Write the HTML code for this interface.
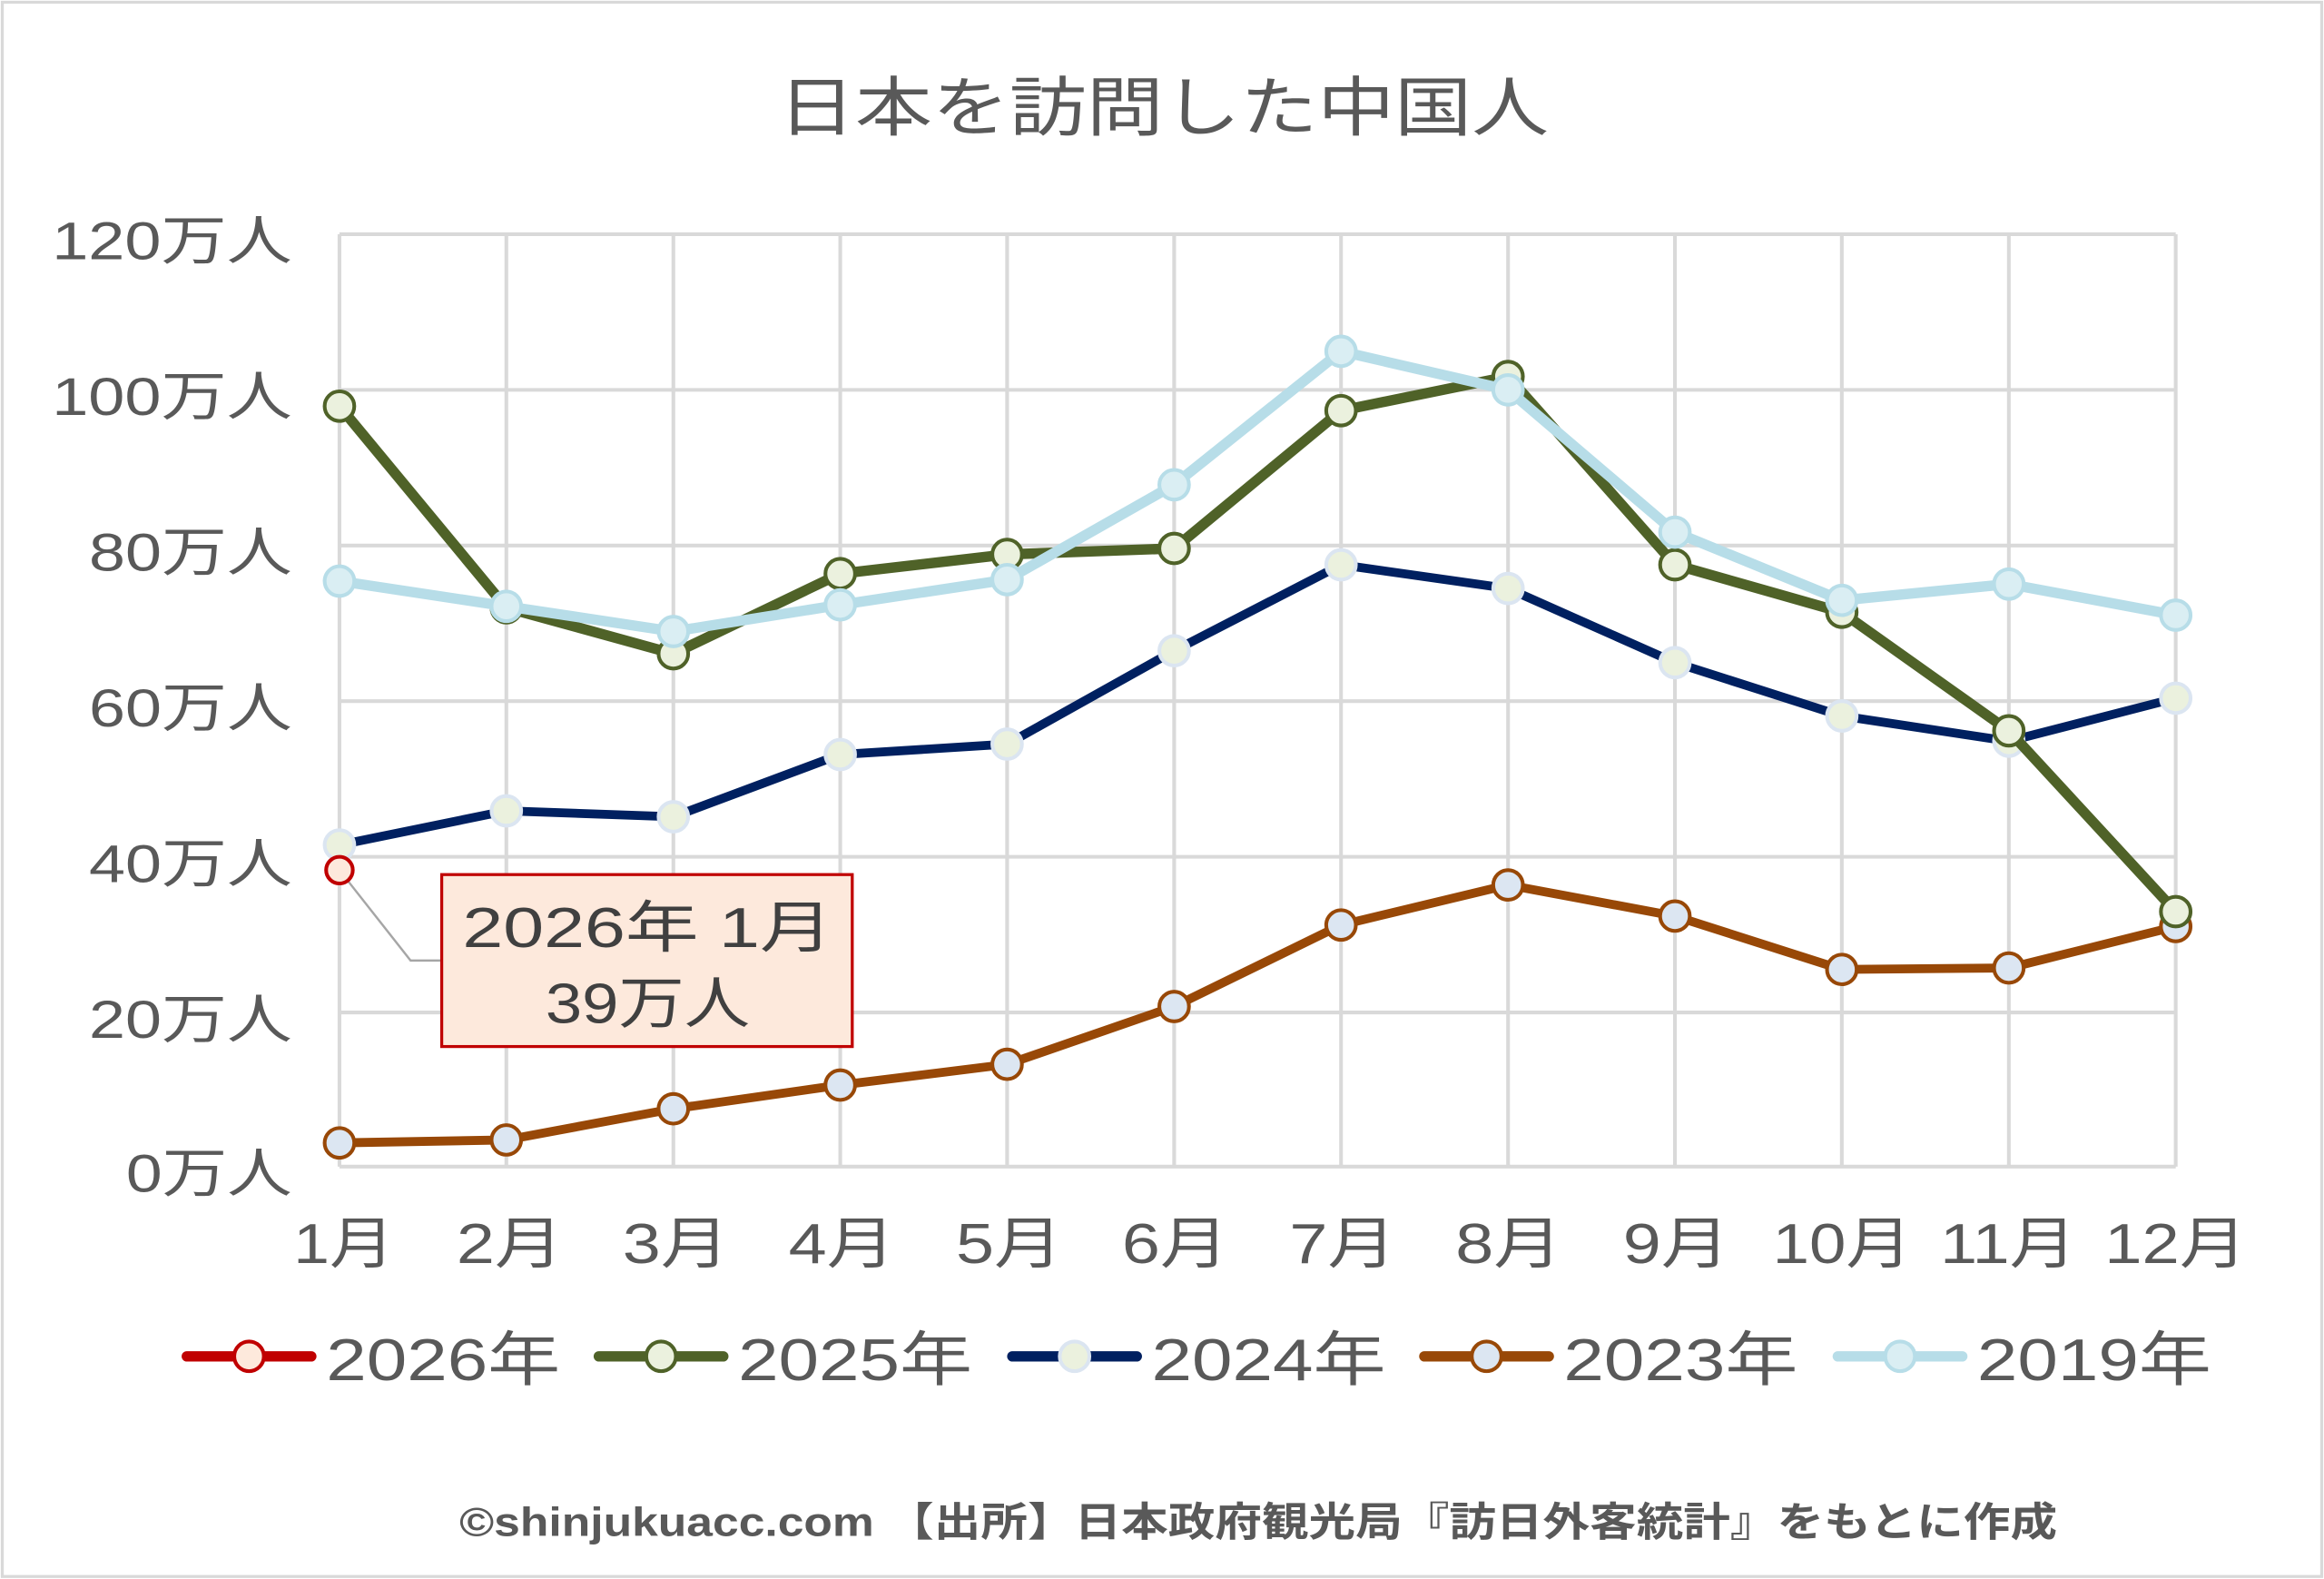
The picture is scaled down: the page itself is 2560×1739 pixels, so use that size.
<!DOCTYPE html>
<html><head><meta charset="utf-8"><style>
html,body{margin:0;padding:0;background:#fff;}
svg{display:block;}
text{font-family:"Liberation Sans","Noto Sans CJK JP",sans-serif;fill:#595959;}
</style></head><body>
<svg width="2560" height="1739" viewBox="0 0 1568 1065.2" xmlns="http://www.w3.org/2000/svg">
<rect x="1.5" y="1.5" width="1565" height="1062" fill="#fff" stroke="#d9d9d9" stroke-width="2"/>
<text x="785" y="88" font-size="44" text-anchor="middle" textLength="520" lengthAdjust="spacingAndGlyphs">日本を訪問した中国人</text>
<g stroke="#d9d9d9" stroke-width="2.5" fill="none">
<path d="M229 158H1468M229 263H1468M229 368H1468M229 473H1468M229 578H1468M229 683H1468M229 787H1468"/>
<path d="M229 158V787M341.6 158V787M454.3 158V787M566.9 158V787M679.5 158V787M792.2 158V787M904.8 158V787M1017.5 158V787M1130.1 158V787M1242.7 158V787M1355.4 158V787M1468 158V787"/>
</g>
<g font-size="36" text-anchor="end">
<text x="197" y="175" textLength="162" lengthAdjust="spacingAndGlyphs">120万人</text>
<text x="197" y="280" textLength="162" lengthAdjust="spacingAndGlyphs">100万人</text>
<text x="197" y="385" textLength="137" lengthAdjust="spacingAndGlyphs">80万人</text>
<text x="197" y="490" textLength="137" lengthAdjust="spacingAndGlyphs">60万人</text>
<text x="197" y="595" textLength="137" lengthAdjust="spacingAndGlyphs">40万人</text>
<text x="197" y="700" textLength="137" lengthAdjust="spacingAndGlyphs">20万人</text>
<text x="197" y="804" textLength="112" lengthAdjust="spacingAndGlyphs">0万人</text>
</g>
<g font-size="38" text-anchor="middle">
<text x="232" y="852" textLength="68" lengthAdjust="spacingAndGlyphs">1月</text>
<text x="344" y="852" textLength="72" lengthAdjust="spacingAndGlyphs">2月</text>
<text x="456" y="852" textLength="72" lengthAdjust="spacingAndGlyphs">3月</text>
<text x="568" y="852" textLength="72" lengthAdjust="spacingAndGlyphs">4月</text>
<text x="681" y="852" textLength="72" lengthAdjust="spacingAndGlyphs">5月</text>
<text x="793" y="852" textLength="72" lengthAdjust="spacingAndGlyphs">6月</text>
<text x="906" y="852" textLength="72" lengthAdjust="spacingAndGlyphs">7月</text>
<text x="1018" y="852" textLength="72" lengthAdjust="spacingAndGlyphs">8月</text>
<text x="1131" y="852" textLength="72" lengthAdjust="spacingAndGlyphs">9月</text>
<text x="1243" y="852" textLength="94" lengthAdjust="spacingAndGlyphs">10月</text>
<text x="1355" y="852" textLength="92" lengthAdjust="spacingAndGlyphs">11月</text>
<text x="1468" y="852" textLength="96" lengthAdjust="spacingAndGlyphs">12月</text>
</g>
<!-- 2023 -->
<polyline fill="none" stroke="#984807" stroke-width="6" stroke-linejoin="round" points="229,771 341.6,769 454.3,748 566.9,732 679.5,718 792.2,679 904.8,624 1017.5,597 1130.1,618 1242.7,654 1355.4,653 1468,625"/>
<g fill="#dce6f2" stroke="#984807" stroke-width="2.5">
<circle cx="229" cy="771" r="10"/><circle cx="341.6" cy="769" r="10"/><circle cx="454.3" cy="748" r="10"/><circle cx="566.9" cy="732" r="10"/><circle cx="679.5" cy="718" r="10"/><circle cx="792.2" cy="679" r="10"/><circle cx="904.8" cy="624" r="10"/><circle cx="1017.5" cy="597" r="10"/><circle cx="1130.1" cy="618" r="10"/><circle cx="1242.7" cy="654" r="10"/><circle cx="1355.4" cy="653" r="10"/><circle cx="1468" cy="625" r="10"/>
</g>
<!-- 2024 -->
<polyline fill="none" stroke="#002060" stroke-width="6" stroke-linejoin="round" points="229,570 341.6,547 454.3,551 566.9,509 679.5,502 792.2,439 904.8,381 1017.5,397 1130.1,447 1242.7,483 1355.4,500 1468,471"/>
<g fill="#ebf1de" stroke="#dbe5f1" stroke-width="2.5">
<circle cx="229" cy="570" r="10"/><circle cx="341.6" cy="547" r="10"/><circle cx="454.3" cy="551" r="10"/><circle cx="566.9" cy="509" r="10"/><circle cx="679.5" cy="502" r="10"/><circle cx="792.2" cy="439" r="10"/><circle cx="904.8" cy="381" r="10"/><circle cx="1017.5" cy="397" r="10"/><circle cx="1130.1" cy="447" r="10"/><circle cx="1242.7" cy="483" r="10"/><circle cx="1355.4" cy="500" r="10"/><circle cx="1468" cy="471" r="10"/>
</g>
<!-- 2025 -->
<polyline fill="none" stroke="#4f6228" stroke-width="7" stroke-linejoin="round" points="229,274 341.6,410 454.3,441 566.9,387 679.5,374 792.2,370 904.8,277 1017.5,254 1130.1,381 1242.7,413 1355.4,493 1468,615"/>
<g fill="#ebf1de" stroke="#4f6228" stroke-width="2.5">
<circle cx="229" cy="274" r="10"/><circle cx="341.6" cy="410" r="10"/><circle cx="454.3" cy="441" r="10"/><circle cx="566.9" cy="387" r="10"/><circle cx="679.5" cy="374" r="10"/><circle cx="792.2" cy="370" r="10"/><circle cx="904.8" cy="277" r="10"/><circle cx="1017.5" cy="254" r="10"/><circle cx="1130.1" cy="381" r="10"/><circle cx="1242.7" cy="413" r="10"/><circle cx="1355.4" cy="493" r="10"/><circle cx="1468" cy="615" r="10"/>
</g>
<!-- 2019 -->
<polyline fill="none" stroke="#b7dde8" stroke-width="7" stroke-linejoin="round" points="229,392 341.6,409 454.3,426 566.9,408 679.5,391 792.2,327 904.8,237 1017.5,263 1130.1,359 1242.7,405 1355.4,394 1468,415"/>
<g fill="#daeef3" stroke="#b7dde8" stroke-width="2.5">
<circle cx="229" cy="392" r="10"/><circle cx="341.6" cy="409" r="10"/><circle cx="454.3" cy="426" r="10"/><circle cx="566.9" cy="408" r="10"/><circle cx="679.5" cy="391" r="10"/><circle cx="792.2" cy="327" r="10"/><circle cx="904.8" cy="237" r="10"/><circle cx="1017.5" cy="263" r="10"/><circle cx="1130.1" cy="359" r="10"/><circle cx="1242.7" cy="405" r="10"/><circle cx="1355.4" cy="394" r="10"/><circle cx="1468" cy="415" r="10"/>
</g>
<!-- 2026 -->
<polyline fill="none" stroke="#a6a6a6" stroke-width="1.5" points="229,587 277,648 298,648"/>
<circle cx="229" cy="587" r="9" fill="#fde9dc" stroke="#c00000" stroke-width="2.5"/>
<rect x="298" y="590" width="277" height="116" fill="#fde9dc" stroke="#c00000" stroke-width="2"/>
<text x="437" y="639" font-size="38" text-anchor="middle" fill="#404040" textLength="250" lengthAdjust="spacingAndGlyphs" style="fill:#404040">2026年 1月</text>
<text x="437" y="690" font-size="38" text-anchor="middle" textLength="138" lengthAdjust="spacingAndGlyphs" style="fill:#404040">39万人</text>
<!-- legend -->
<g stroke-width="7" stroke-linecap="round">
<line x1="126" y1="915" x2="210" y2="915" stroke="#c00000"/>
<line x1="404" y1="915" x2="488" y2="915" stroke="#4f6228"/>
<line x1="683" y1="915" x2="767" y2="915" stroke="#002060"/>
<line x1="961" y1="915" x2="1045" y2="915" stroke="#984807"/>
<line x1="1240" y1="915" x2="1324" y2="915" stroke="#b7dde8"/>
</g>
<g stroke-width="2.5">
<circle cx="168" cy="915" r="10" fill="#fde9dc" stroke="#c00000"/>
<circle cx="446" cy="915" r="10" fill="#ebf1de" stroke="#4f6228"/>
<circle cx="725" cy="915" r="10" fill="#ebf1de" stroke="#dbe5f1"/>
<circle cx="1003" cy="915" r="10" fill="#dce6f2" stroke="#984807"/>
<circle cx="1282" cy="915" r="10" fill="#daeef3" stroke="#b7dde8"/>
</g>
<g font-size="40">
<text x="220" y="931" textLength="158" lengthAdjust="spacingAndGlyphs">2026年</text>
<text x="498" y="931" textLength="158" lengthAdjust="spacingAndGlyphs">2025年</text>
<text x="777" y="931" textLength="158" lengthAdjust="spacingAndGlyphs">2024年</text>
<text x="1055" y="931" textLength="158" lengthAdjust="spacingAndGlyphs">2023年</text>
<text x="1334" y="931" textLength="158" lengthAdjust="spacingAndGlyphs">2019年</text>
</g>
<text x="310" y="1036" font-size="27" font-weight="bold" textLength="1078" lengthAdjust="spacingAndGlyphs">©shinjukuacc.com 【出所】日本政府観光局『訪日外客統計』をもとに作成</text>
</svg>
</body></html>
